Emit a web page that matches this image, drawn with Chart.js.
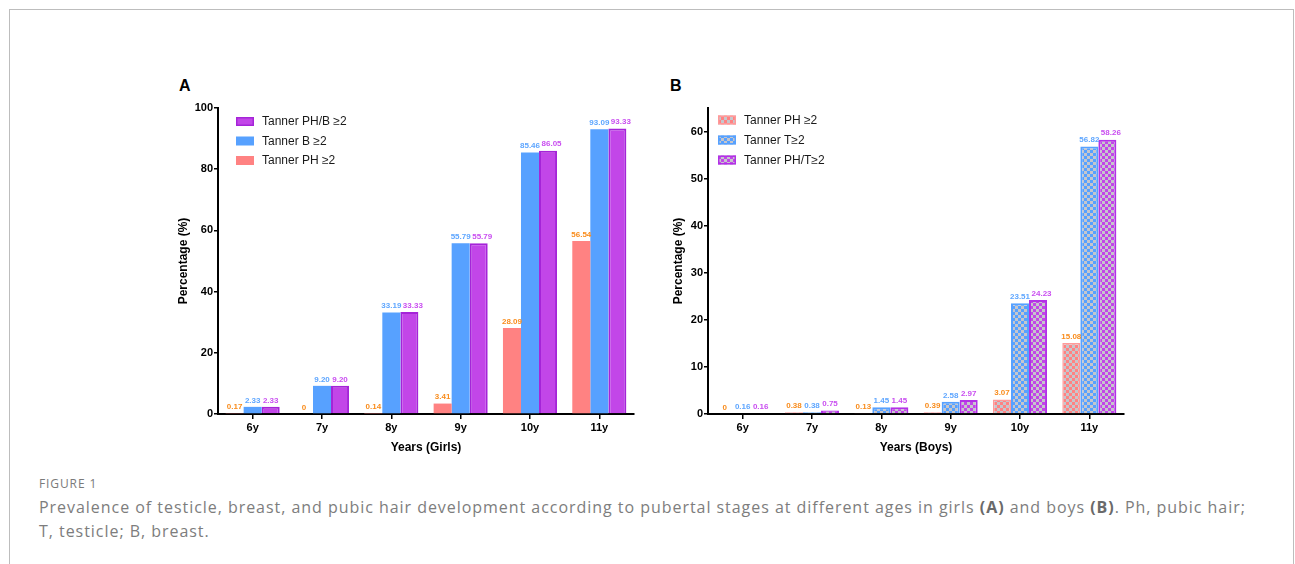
<!DOCTYPE html>
<html>
<head>
<meta charset="utf-8">
<script src="https://cdn.jsdelivr.net/npm/chart.js@4.4.1/dist/chart.umd.min.js"></script>
<style>
  html, body { margin: 0; padding: 0; background: #fff; }
  body { width: 1295px; height: 564px; position: relative; overflow: hidden; font-family: "Liberation Sans", Arial, sans-serif; }
  .frame { position: absolute; left: 9px; top: 9px; width: 1285px; height: 620px; border: 1px solid #bdbdbd; box-sizing: border-box; }
  .panel { position: absolute; font-weight: bold; font-size: 16px; color: #000; line-height: 1; }
  .cv { position: absolute; }
  .fig { position: absolute; left: 39px; top: 477px; font-family: "Open Sans", sans-serif; font-size: 12px; letter-spacing: 0.9px; color: #7a7a7a; line-height: 14px; }
  .cap { position: absolute; left: 39px; top: 495px; font-family: "Open Sans", sans-serif; font-size: 16px; letter-spacing: 0.96px; color: #7d7d7d; line-height: 24px; white-space: nowrap; }
  .cap b { font-weight: 700; color: #6a6a6a; }
</style>
</head>
<body>
<div class="frame"></div>
<div class="panel" style="left:179px;top:78px;">A</div>
<div class="panel" style="left:670px;top:78px;">B</div>
<canvas id="chartA" class="cv" width="500" height="370" style="left:150px;top:96px;width:500px;height:370px;"></canvas>
<canvas id="chartB" class="cv" width="500" height="370" style="left:640px;top:96px;width:500px;height:370px;"></canvas>
<div class="fig">FIGURE 1</div>
<div class="cap">Prevalence of testicle, breast, and pubic hair development according to pubertal stages at different ages in girls <b>(A)</b> and boys <b>(B)</b>. Ph, pubic hair;<br>T, testicle; B, breast.</div>

<script>
// Age groups shared by both panels
const ages = ['6y', '7y', '8y', '9y', '10y', '11y'];

// Panel A: girls (%)
const girlsPH = [0.17, 0, 0.14, 3.41, 28.09, 56.54];
const girlsB = [2.33, 9.20, 33.19, 55.79, 85.46, 93.09];
const girlsPHB = [2.33, 9.20, 33.33, 55.79, 86.05, 93.33];

// Panel B: boys (%)
const boysPH = [0, 0.38, 0.13, 0.39, 3.07, 15.08];
const boysT = [0.16, 0.38, 1.45, 2.58, 23.51, 56.82];
const boysPHT = [0.16, 0.75, 1.45, 2.97, 24.23, 58.26];

// Axis ticks
const ticksA = [0, 20, 40, 60, 80, 100];
const ticksB = [0, 10, 20, 30, 40, 50, 60];

const PINK = '#ff8282';
const BLUE = '#57a1ff';
const PURPLE = '#c246e8';
const PURPLE_EDGE = '#a524d8';
const LBL_ORANGE = '#f98c1c';
const LBL_BLUE = '#5ea6ff';
const LBL_PURPLE = '#c94ef0';

// Checkerboard fill used for the boys' bars
function checker(color) {
  const c = document.createElement('canvas');
  c.width = 6; c.height = 6;
  const g = c.getContext('2d');
  g.fillStyle = '#c6c6cc';
  g.fillRect(0, 0, 6, 6);
  g.fillStyle = color;
  g.fillRect(0, 0, 3, 3);
  g.fillRect(3, 3, 3, 3);
  return g.createPattern(c, 'repeat');
}

function fmt(v) { return v === 0 ? '0' : v.toFixed(2); }

// Value labels above every bar; a label that would run into its left
// neighbour's label is nudged to the right.
const valueLabels = {
  id: 'valueLabels',
  afterDatasetsDraw(chart) {
    const ctx = chart.ctx;
    ctx.save();
    ctx.font = 'bold 8px "Liberation Sans", Arial, sans-serif';
    ctx.textAlign = 'center';
    ctx.textBaseline = 'middle';
    const prev = {};
    chart.data.datasets.forEach((ds, i) => {
      chart.getDatasetMeta(i).data.forEach((bar, j) => {
        const txt = fmt(ds.data[j]);
        const w = ctx.measureText(txt).width;
        let cx = bar.x;
        const cy = bar.y - 6.5;
        const p = prev[j];
        if (p && Math.abs(p.cy - cy) < 8) {
          const overlap = p.right + 1.5 - (cx - w / 2);
          if (overlap > 0) cx += overlap;
        }
        ctx.fillStyle = ds.labelColor;
        ctx.fillText(txt, cx, cy);
        prev[j] = { right: cx + w / 2, cy };
      });
    });
    ctx.restore();
  }
};

// Legend block drawn in the upper-left of the plot
const boxLegend = {
  id: 'boxLegend',
  afterDraw(chart, args, opts) {
    const ctx = chart.ctx;
    ctx.save();
    ctx.font = '12px "Liberation Sans", Arial, sans-serif';
    ctx.textBaseline = 'middle';
    opts.order.forEach((idx, k) => {
      const ds = chart.data.datasets[idx];
      const y = opts.y + k * opts.step;
      ctx.fillStyle = ds.backgroundColor;
      ctx.fillRect(opts.x, y - 4.5, 18, 9);
      if (ds.borderWidth > 0) {
        ctx.strokeStyle = ds.borderColor;
        ctx.lineWidth = 1.5;
        ctx.strokeRect(opts.x + 0.75, y - 3.75, 16.5, 7.5);
      }
      ctx.fillStyle = '#1a1a1a';
      ctx.fillText(ds.label, opts.textX, y + 0.5);
    });
    ctx.restore();
  }
};

function makeOptions(max, tickVals, xTitle, yTitlePad, legendCfg) {
  return {
    responsive: false,
    animation: false,
    layout: { padding: { left: 0, right: 16, top: 12, bottom: 0 } },
    plugins: {
      legend: { display: false },
      tooltip: { enabled: false },
      boxLegend: legendCfg
    },
    datasets: { bar: { categoryPercentage: 0.78, barPercentage: 1.0 } },
    scales: {
      x: {
        grid: { display: true, drawOnChartArea: false, drawTicks: true, offset: false, tickLength: 5, color: '#000', lineWidth: 1.5 },
        border: { display: true, color: '#000', width: 2 },
        ticks: { color: '#000', padding: 2, font: { family: '"Liberation Sans", Arial, sans-serif', size: 11, weight: 'bold' } },
        title: { display: true, text: xTitle, color: '#000', padding: { top: 0, bottom: 11 }, font: { family: '"Liberation Sans", Arial, sans-serif', size: 12, weight: 'bold' } },
        afterFit(s) { s.height = 52; }
      },
      y: {
        min: 0, max: max,
        afterBuildTicks(s) { s.ticks = tickVals.map(v => ({ value: v })); },
        grid: { display: true, drawOnChartArea: false, drawTicks: true, tickLength: 4, color: '#000', lineWidth: 1.5 },
        border: { display: true, color: '#000', width: 2 },
        ticks: { color: '#000', padding: 1, font: { family: '"Liberation Sans", Arial, sans-serif', size: 11, weight: 'bold' } },
        title: { display: true, text: 'Percentage (%)', color: '#000', padding: { top: yTitlePad, bottom: 0 }, font: { family: '"Liberation Sans", Arial, sans-serif', size: 12, weight: 'bold' } },
        afterFit(s) { s.width = 68; }
      }
    }
  };
}

new Chart(document.getElementById('chartA'), {
  type: 'bar',
  data: {
    labels: ages,
    datasets: [
      { label: 'Tanner PH ≥2', data: girlsPH, backgroundColor: PINK, borderWidth: 0, labelColor: LBL_ORANGE },
      { label: 'Tanner B ≥2', data: girlsB, backgroundColor: BLUE, borderWidth: 0, labelColor: LBL_BLUE },
      { label: 'Tanner PH/B ≥2', data: girlsPHB, backgroundColor: PURPLE, borderColor: PURPLE_EDGE, borderWidth: 2, labelColor: LBL_PURPLE }
    ]
  },
  options: makeOptions(100, ticksA, 'Years (Girls)', 26, { x: 86, textX: 112, y: 25.5, step: 19.5, order: [2, 1, 0] }),
  plugins: [valueLabels, boxLegend]
});

new Chart(document.getElementById('chartB'), {
  type: 'bar',
  data: {
    labels: ages,
    datasets: [
      { label: 'Tanner PH ≥2', data: boysPH, backgroundColor: checker(PINK), borderColor: '#ff9a9a', borderWidth: 1.5, labelColor: LBL_ORANGE },
      { label: 'Tanner T≥2', data: boysT, backgroundColor: checker(BLUE), borderColor: BLUE, borderWidth: 2, labelColor: LBL_BLUE },
      { label: 'Tanner PH/T≥2', data: boysPHT, backgroundColor: checker(PURPLE), borderColor: '#b231e6', borderWidth: 2, labelColor: LBL_PURPLE }
    ]
  },
  options: makeOptions(65, ticksB, 'Years (Boys)', 31, { x: 78, textX: 104, y: 24, step: 20, order: [0, 1, 2] }),
  plugins: [valueLabels, boxLegend]
});
</script>
</body>
</html>
